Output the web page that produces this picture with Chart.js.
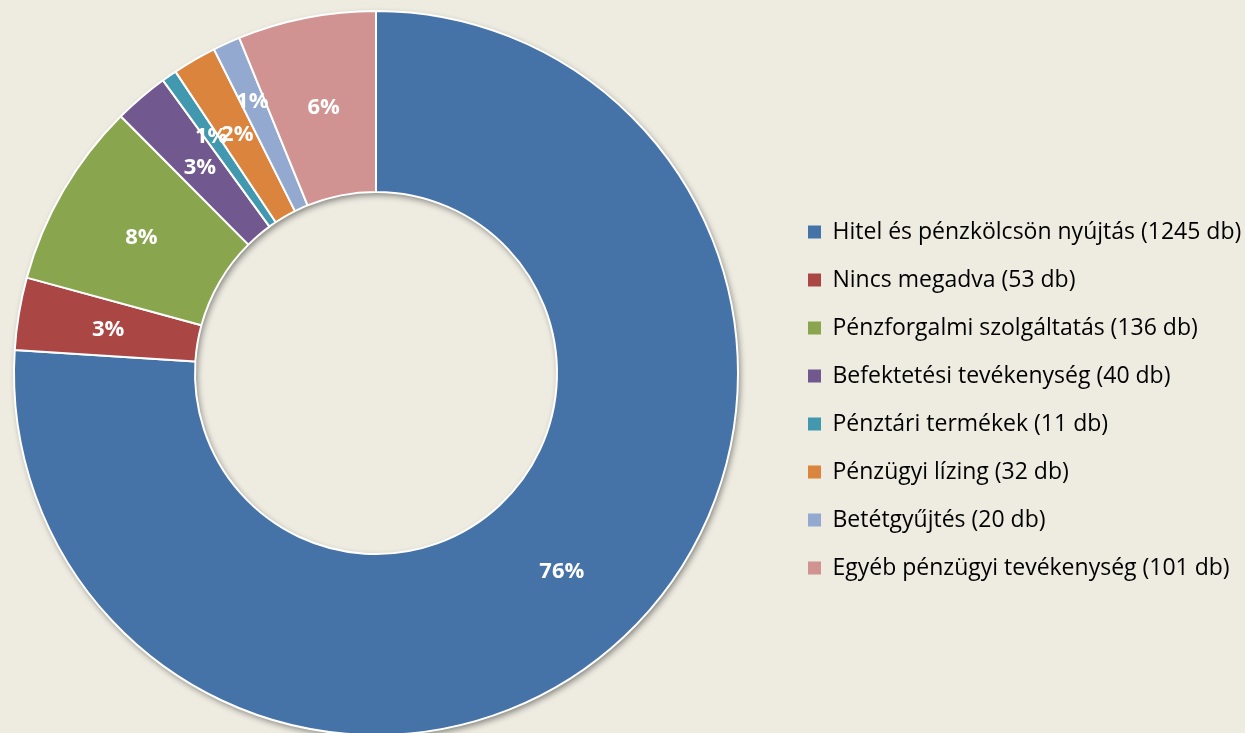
<!DOCTYPE html>
<html lang="hu">
<head>
<meta charset="utf-8">
<title>Pénzügyi tevékenységek megoszlása</title>
<script src="https://cdn.jsdelivr.net/npm/chart.js@4.4.1/dist/chart.umd.min.js"></script>
<style>
  html, body { margin: 0; padding: 0; background: #EEECE1; overflow: hidden; }
  #wrap { width: 1245px; height: 745px; }
</style>
</head>
<body>
<div id="wrap"><canvas id="chart" width="1245" height="745"></canvas></div>
<script>
// Adatok
const categories = [
  'Hitel és pénzkölcsön nyújtás',
  'Nincs megadva',
  'Pénzforgalmi szolgáltatás',
  'Befektetési tevékenység',
  'Pénztári termékek',
  'Pénzügyi lízing',
  'Betétgyűjtés',
  'Egyéb pénzügyi tevékenység'
];
const counts = [1245, 53, 136, 40, 11, 32, 20, 101];
const pctLabels = ['76%', '3%', '8%', '3%', '1%', '2%', '1%', '6%'];
const colors = ['#4572A7', '#AA4643', '#89A54E', '#71588F', '#4198AF', '#DB843D', '#93A9CF', '#D19392'];

const BG = '#EEECE1';

// árnyék a gyűrű alatt
const ringShadow = {
  id: 'ringShadow',
  beforeDatasetsDraw(chart) {
    const arc = chart.getDatasetMeta(0).data[0];
    if (!arc) return;
    const { x, y, outerRadius, innerRadius } = arc.getProps(['x', 'y', 'outerRadius', 'innerRadius'], true);
    const ctx = chart.ctx;
    ctx.save();
    ctx.shadowColor = 'rgba(0,0,0,0.45)';
    ctx.shadowBlur = 6;
    ctx.shadowOffsetX = 2;
    ctx.shadowOffsetY = 3;
    ctx.fillStyle = BG;
    ctx.beginPath();
    ctx.arc(x, y, outerRadius, 0, Math.PI * 2);
    ctx.arc(x, y, innerRadius, 0, Math.PI * 2, true);
    ctx.fill();
    ctx.restore();
  }
};

// százalék feliratok a szeletek közepén (a keskeny szeleteknél kicsit kijjebb)
const pctLabelPlugin = {
  id: 'pctLabels',
  pushOut: { 4: 17, 5: 5, 6: 28 },
  afterDatasetsDraw(chart) {
    const ctx = chart.ctx;
    ctx.save();
    ctx.font = 'bold 22px "Open Sans"';
    ctx.fillStyle = '#FFFFFF';
    ctx.textAlign = 'center';
    ctx.textBaseline = 'middle';
    chart.getDatasetMeta(0).data.forEach((arc, i) => {
      const a = arc.getProps(['x', 'y', 'startAngle', 'endAngle', 'innerRadius', 'outerRadius'], true);
      const mid = (a.startAngle + a.endAngle) / 2;
      const r = (a.innerRadius + a.outerRadius) / 2 + (this.pushOut[i] || 0);
      ctx.fillText(pctLabels[i], a.x + Math.cos(mid) * r, a.y + Math.sin(mid) * r + 1);
    });
    ctx.restore();
  }
};

// jelmagyarázat: fix szélesség, majd kicsit jobbra tolva
const legendPlace = {
  id: 'legendPlace',
  beforeUpdate(chart) {
    const legend = chart.legend;
    if (!legend || legend._fixedWidth) return;
    const fit = legend.fit;
    legend.fit = function () {
      fit.call(this);
      this.width = 493;
    };
    legend._fixedWidth = true;
  },
  afterLayout(chart) {
    const legend = chart.legend;
    legend.left += 31;
    legend.right += 31;
  }
};

new Chart(document.getElementById('chart'), {
  type: 'doughnut',
  data: {
    labels: categories.map((c, i) => `${c} (${counts[i]} db)`),
    datasets: [{
      data: counts,
      backgroundColor: colors,
      borderColor: '#FFFFFF',
      borderWidth: 2
    }]
  },
  options: {
    responsive: false,
    animation: false,
    devicePixelRatio: 1,
    cutout: '50%',
    layout: {
      padding: { left: 0, right: 0, top: 10, bottom: 9 }
    },
    events: [],
    plugins: {
      tooltip: { enabled: false },
      legend: {
        position: 'right',
        align: 'center',
        title: {
          display: true,
          text: '',
          padding: { top: 44, bottom: 0 },
          font: { size: 10, lineHeight: 1 }
        },
        labels: {
          color: '#000000',
          font: { family: '"Open Sans"', size: 23 },
          boxWidth: 13,
          boxHeight: 13,
          padding: 25,
          generateLabels(chart) {
            const items = Chart.overrides.doughnut.plugins.legend.labels.generateLabels(chart);
            items.forEach(it => { it.lineWidth = 0; it.strokeStyle = it.fillStyle; });
            return items;
          }
        }
      }
    }
  },
  plugins: [ringShadow, pctLabelPlugin, legendPlace]
});
</script>
</body>
</html>
